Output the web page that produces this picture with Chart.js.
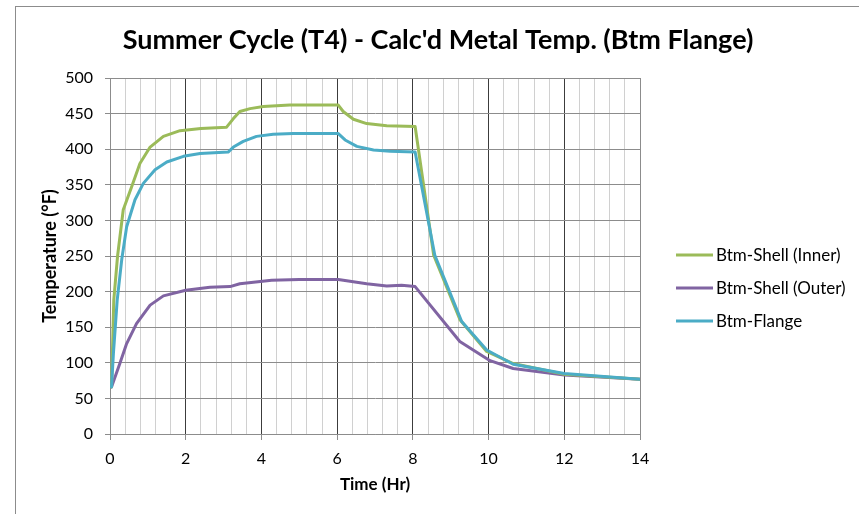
<!DOCTYPE html>
<html lang="en">
<head>
    <meta charset="UTF-8">
    <title>Summer Cycle (T4) - Calc'd Metal Temp. (Btm Flange)</title>
    <script src="https://cdn.jsdelivr.net/npm/chart.js"></script>
    <style>
        * {
            margin: 0;
            padding: 0;
            box-sizing: border-box;
        }

        body {
            background: #ffffff;
            width: 859px;
            height: 514px;
            overflow: hidden;
        }

        .wrap {
            position: relative;
            width: 859px;
            height: 514px;
        }

        .frame {
            position: absolute;
            left: 15px;
            top: 6px;
            width: 860px;
            height: 520px;
            border-left: 1px solid #8c8c8c;
            border-top: 1px solid #8c8c8c;
            pointer-events: none;
        }
    </style>
</head>
<body>
    <div class="wrap">
        <canvas id="tempChart" width="859" height="514"></canvas>
        <div class="frame"></div>
    </div>

    <script>
        // values (time in hours, temperature in °F)
        const innerTime = [0.04, 0.1, 0.2, 0.35, 0.57, 0.79, 1.06, 1.41, 1.85, 2.4, 3.08, 3.26, 3.43, 3.7, 4.05, 4.75, 6.03, 6.16, 6.43, 6.78, 7.31, 8.06, 8.55, 9.25, 9.95, 10.65, 12.0, 14.0];
        const innerTemp = [66, 188, 250, 315, 347, 380, 403, 418, 426, 429, 431, 443, 453, 457, 460, 462, 462, 453, 442, 436, 433, 432, 251, 160, 116, 99, 84, 77];

        const outerTime = [0.04, 0.26, 0.44, 0.7, 1.06, 1.41, 2.0, 2.64, 3.17, 3.43, 4.27, 5.0, 6.03, 6.78, 7.31, 7.7, 8.06, 9.24, 10.04, 10.65, 12.0, 14.0];
        const outerTemp = [66, 99, 127, 155, 181, 194, 202, 206, 207, 211, 216, 217, 217, 211, 208, 209, 207, 130, 103, 92, 83, 77];

        const flangeTime = [0.04, 0.09, 0.19, 0.31, 0.44, 0.66, 0.88, 1.19, 1.5, 1.94, 2.38, 3.12, 3.26, 3.52, 3.87, 4.31, 4.84, 6.03, 6.21, 6.52, 6.96, 7.4, 8.06, 8.58, 9.29, 9.95, 10.65, 12.0, 14.0];
        const flangeTemp = [66, 113, 188, 245, 291, 329, 352, 371, 382, 390, 394, 396, 403, 411, 418, 421, 422, 422, 413, 404, 399, 397, 396, 251, 158, 118, 98, 85, 77];

        const seriesNames = ['Btm-Shell (Inner)', 'Btm-Shell (Outer)', 'Btm-Flange'];
        const seriesColors = ['#9bbb59', '#8064a2', '#4bacc6'];
        const chartTitle = "Summer Cycle (T4) - Calc'd Metal Temp. (Btm Flange)";

        const xMin = 0, xMax = 14, xMinor = 0.4, xMajor = 2;
        const yMin = 0, yMax = 500, yStep = 50;

        function toPoints(ts, vs) {
            return ts.map((t, i) => ({ x: t, y: vs[i] }));
        }

        function isMajor(v) {
            const q = v / xMajor;
            return Math.abs(q - Math.round(q)) < 1e-6;
        }

        const FONT = "Lato, 'Open Sans', sans-serif";

        // title centred on the whole picture, legend on the right (Excel style)
        const excelDecor = {
            id: 'excelDecor',
            afterDraw(chart, args, opts) {
                const ctx = chart.ctx;
                ctx.save();
                ctx.fillStyle = '#000000';
                ctx.textAlign = 'center';
                ctx.textBaseline = 'middle';
                ctx.font = opts.titleFont;
                ctx.fillText(opts.title, opts.titleX, opts.titleY);

                ctx.textAlign = 'left';
                ctx.font = opts.legendFont;
                chart.data.datasets.forEach((ds, i) => {
                    const y = opts.legendTop + i * opts.legendGap;
                    ctx.strokeStyle = ds.borderColor;
                    ctx.lineWidth = 3;
                    ctx.beginPath();
                    ctx.moveTo(opts.legendLeft, y);
                    ctx.lineTo(opts.legendLeft + opts.lineLen, y);
                    ctx.stroke();
                    ctx.fillText(ds.label, opts.legendLeft + opts.lineLen + 3, y + 1);
                });
                ctx.restore();
            }
        };

        const ctx = document.getElementById('tempChart').getContext('2d');
        new Chart(ctx, {
            type: 'line',
            data: {
                datasets: [{
                    label: seriesNames[0],
                    data: toPoints(innerTime, innerTemp),
                    borderColor: seriesColors[0],
                    backgroundColor: seriesColors[0],
                    order: 2
                }, {
                    label: seriesNames[1],
                    data: toPoints(outerTime, outerTemp),
                    borderColor: seriesColors[1],
                    backgroundColor: seriesColors[1],
                    order: 3
                }, {
                    label: seriesNames[2],
                    data: toPoints(flangeTime, flangeTemp),
                    borderColor: seriesColors[2],
                    backgroundColor: seriesColors[2],
                    order: 1
                }]
            },
            options: {
                responsive: false,
                animation: false,
                devicePixelRatio: 1,
                elements: {
                    line: { borderWidth: 3, tension: 0, borderCapStyle: 'round', borderJoinStyle: 'round' },
                    point: { radius: 0 }
                },
                layout: {
                    padding: { left: 0, right: 219, top: 78, bottom: 0 }
                },
                plugins: {
                    legend: { display: false },
                    tooltip: { enabled: false },
                    title: { display: false },
                    excelDecor: {
                        title: chartTitle,
                        titleX: 438,
                        titleY: 40,
                        titleFont: "bold 27px " + FONT,
                        legendLeft: 676,
                        legendTop: 255,
                        legendGap: 33,
                        lineLen: 37,
                        legendFont: "17px " + FONT
                    }
                },
                scales: {
                    x: {
                        type: 'linear',
                        min: xMin,
                        max: xMax,
                        afterFit(scale) { scale.height = 80; },
                        ticks: {
                            stepSize: xMinor,
                            autoSkip: false,
                            maxRotation: 0,
                            padding: 9,
                            color: '#000000',
                            font: { family: FONT, size: 16 },
                            callback: (v) => isMajor(v) ? Math.round(v) : ''
                        },
                        grid: {
                            color: (c) => {
                                const v = c.tick ? c.tick.value : 0;
                                if (!isMajor(v)) return '#d0d0d0';
                                if (Math.abs(v - xMin) < 1e-6 || Math.abs(v - xMax) < 1e-6) return '#8c8c8c';
                                return '#3c3c3c';
                            },
                            tickColor: (c) => (c.tick && isMajor(c.tick.value)) ? '#8c8c8c' : 'rgba(0,0,0,0)',
                            tickLength: 6,
                            lineWidth: 1
                        },
                        border: { display: true, color: '#8c8c8c' },
                        title: {
                            display: true,
                            text: 'Time (Hr)',
                            color: '#000000',
                            font: { family: FONT, size: 17, weight: 'bold', lineHeight: 1.2 },
                            padding: { top: 0, bottom: 19 }
                        }
                    },
                    y: {
                        min: yMin,
                        max: yMax,
                        afterFit(scale) { scale.width = 110; },
                        ticks: {
                            stepSize: yStep,
                            padding: 12,
                            color: '#000000',
                            font: { family: FONT, size: 16 }
                        },
                        grid: {
                            color: '#8c8c8c',
                            tickColor: '#8c8c8c',
                            tickLength: 5,
                            lineWidth: 1
                        },
                        border: { display: true, color: '#8c8c8c' },
                        title: {
                            display: true,
                            text: 'Temperature (°F)',
                            color: '#000000',
                            font: { family: FONT, size: 18, weight: 'bold', lineHeight: 1.2 },
                            padding: { top: 39, bottom: 0 }
                        }
                    }
                }
            },
            plugins: [excelDecor]
        });
    </script>
</body>
</html>
